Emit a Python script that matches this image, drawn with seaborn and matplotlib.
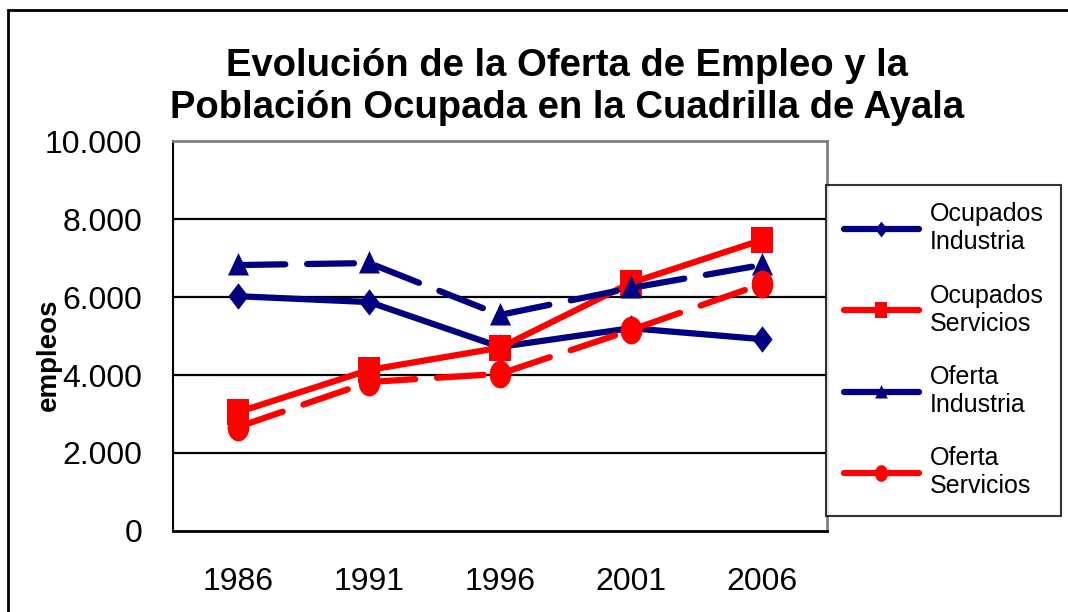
import numpy as np
import pandas as pd
import matplotlib.pyplot as plt
import matplotlib.ticker as mticker
from matplotlib.lines import Line2D
from matplotlib.patches import Rectangle
import seaborn as sns

years = ["1986", "1991", "1996", "2001", "2006"]
ocupados_industria = [6020, 5870, 4720, 5200, 4920]
ocupados_servicios = [3050, 4130, 4700, 6360, 7460]
oferta_industria = [6820, 6870, 5540, 6230, 6820]
oferta_servicios = [2670, 3820, 4030, 5150, 6330]

series = {
    "Ocupados\nIndustria": ocupados_industria,
    "Ocupados\nServicios": ocupados_servicios,
    "Oferta\nIndustria": oferta_industria,
    "Oferta\nServicios": oferta_servicios,
}

# markers slightly taller than wide, like the original chart
t = np.linspace(0, 2 * np.pi, 40)
diamond = [(0, 1.3), (1, 0), (0, -1.3), (-1, 0), (0, 1.3)]
square = [(-1, -1.25), (1, -1.25), (1, 1.25), (-1, 1.25), (-1, -1.25)]
triangle = [(0, 1.25), (1.05, -1), (-1.05, -1), (0, 1.25)]
ellipse = list(zip(np.cos(t), 1.28 * np.sin(t)))

styles = {
    "Ocupados\nIndustria": dict(color="#000080", marker=diamond, dashes=None, ms=19),
    "Ocupados\nServicios": dict(color="#FF0000", marker=square, dashes=None, ms=19),
    "Oferta\nIndustria": dict(color="#000080", marker=triangle, dashes=(7.5, 3.5), ms=18),
    "Oferta\nServicios": dict(color="#FF0000", marker=ellipse, dashes=(7.5, 3.5), ms=20),
}

sns.set_style("white")
plt.rcParams["font.family"] = ["Liberation Sans", "DejaVu Sans"]
plt.rcParams["text.color"] = "black"
plt.rcParams["xtick.color"] = "black"
plt.rcParams["ytick.color"] = "black"
plt.rcParams["axes.labelcolor"] = "black"

fig = plt.figure(figsize=(10.68, 6.12), dpi=100)
ax = fig.add_axes([173 / 1068, 1 - 531 / 612, (827 - 173) / 1068, (531 - 141) / 612])

pos = np.arange(len(years))
for name, vals in series.items():
    st = styles[name]
    df = pd.DataFrame({"x": pos, "y": vals})
    sns.lineplot(
        data=df, x="x", y="y", ax=ax, color=st["color"], marker=st["marker"],
        markersize=st["ms"], markeredgewidth=0, linewidth=4.5,
        solid_capstyle="round", dash_capstyle="round", legend=False,
    )
    if st["dashes"] is not None:
        ax.lines[-1].set_dashes(st["dashes"])

ax.set_xlim(-0.5, 4.5)
ax.set_ylim(0, 10000)
ax.set_yticks(np.arange(0, 10001, 2000))
ax.yaxis.set_major_formatter(
    mticker.FuncFormatter(lambda v, p: f"{int(v):,}".replace(",", "."))
)
ax.set_xticks(np.arange(-0.5, 4.6, 1.0))
ax.set_xticklabels([])
ax.set_xticks(pos, minor=True)
ax.set_xticklabels(years, minor=True)
ax.tick_params(axis="x", which="major", direction="out", length=10, width=1.2, color="black")
ax.tick_params(axis="x", which="minor", length=0, pad=26, labelsize=23)
ax.tick_params(axis="y", direction="out", length=8, width=1.2, color="black", labelsize=23, pad=14)
ax.set_xlabel("")
ax.set_ylabel("empleos", fontsize=20, fontweight="bold")
ax.yaxis.set_label_coords(-0.19, 0.451)
ax.yaxis.label.set_verticalalignment("center")

for v in [2000, 4000, 6000, 8000]:
    ax.axhline(v, color="black", linewidth=1.6, zorder=0)

ax.spines["left"].set_color("black")
ax.spines["left"].set_linewidth(1.5)
ax.spines["bottom"].set_color("black")
ax.spines["bottom"].set_linewidth(2)
ax.spines["top"].set_color("#808080")
ax.spines["top"].set_linewidth(2)
ax.spines["right"].set_color("#808080")
ax.spines["right"].set_linewidth(2)

fig.text(567 / 1068, 1 - 87 / 612,
         "Evolución de la Oferta de Empleo y la\nPoblación Ocupada en la Cuadrilla de Ayala",
         ha="center", va="center", fontsize=27.5, fontweight="bold", linespacing=1.2)

handles = []
for name in series:
    st = styles[name]
    handles.append(Line2D([0], [0], color=st["color"], marker=st["marker"],
                          markersize=st["ms"] * 0.6, markeredgewidth=0,
                          linewidth=4.5, solid_capstyle="round"))
leg = fig.legend(handles, list(series.keys()), loc="upper left",
                 bbox_to_anchor=(826 / 1068, 1 - 185 / 612), fontsize=18,
                 frameon=True, fancybox=False, edgecolor="black",
                 handlelength=3.0, labelspacing=1.18, borderpad=0.7,
                 handletextpad=0.45, borderaxespad=0)
leg.get_frame().set_linewidth(1.5)

fig.patches.append(Rectangle((8 / 1068, -0.2), 1.2, 1.2 - 10 / 612,
                             transform=fig.transFigure, fill=False,
                             edgecolor="black", linewidth=2, figure=fig))

fig.savefig("out.png", dpi=100)
